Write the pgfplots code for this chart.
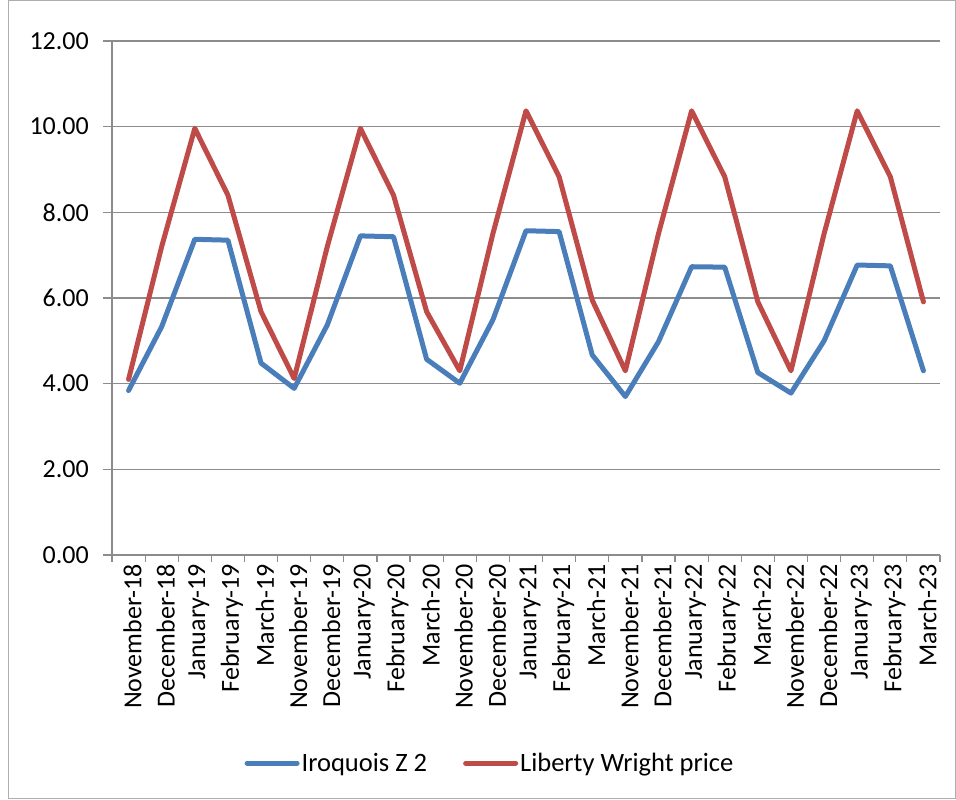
\documentclass[border=0pt]{standalone}
\usepackage{pgfplots}
\pgfplotsset{compat=1.18}
\usepackage{fontspec}
\setmainfont{Carlito}

\definecolor{serblue}{HTML}{4A7EBB}
\definecolor{serred}{HTML}{BE4B48}
\definecolor{gridgray}{HTML}{8C8C8C}

\pgfplotstableread{
x iroq lib
0  3.84 4.10
1  5.33 7.20
2  7.37 9.96
3  7.35 8.40
4  4.48 5.68
5  3.89 4.12
6  5.37 7.20
7  7.45 9.96
8  7.43 8.40
9  4.57 5.68
10 4.01 4.30
11 5.49 7.50
12 7.57 10.37
13 7.55 8.83
14 4.67 5.95
15 3.70 4.30
16 4.98 7.50
17 6.73 10.37
18 6.72 8.83
19 4.26 5.91
20 3.78 4.30
21 5.00 7.50
22 6.77 10.37
23 6.75 8.83
24 4.30 5.91
}\prices

\begin{document}
\begin{tikzpicture}[x=1pt,y=1pt]
\useasboundingbox (0,0) rectangle (956,800);
\draw[gridgray!70, line width=1pt] (8,1) -- (8,799.5) -- (955.5,799.5) -- (955.5,1) -- cycle;
\begin{axis}[
    at={(112pt,245pt)}, anchor=south west,
    scale only axis,
    width=828pt, height=514pt,
    xmin=-0.5, xmax=24.5,
    ymin=0, ymax=12,
    ytick={0,2,...,12},
    axis lines=left,
    axis line style={-, gridgray, line width=1.2pt},
    ymajorgrids,
    grid style={gridgray, line width=1.2pt},
    xtick={0,...,24},
    xticklabels={November-18,December-18,January-19,February-19,March-19,
      November-19,December-19,January-20,February-20,March-20,
      November-20,December-20,January-21,February-21,March-21,
      November-21,December-21,January-22,February-22,March-22,
      November-22,December-22,January-23,February-23,March-23},
    minor xtick={-0.5,0.5,...,24.5},
    tick align=outside,
    major tick length=9pt,
    minor tick length=7pt,
    x tick style={draw=none},
    minor x tick style={draw=gridgray, line width=1.2pt},
    y tick style={gridgray, line width=1.2pt},
    xticklabel style={rotate=90, anchor=east, font=\fontsize{26}{30}\selectfont, inner sep=0pt, yshift=-4pt},
    yticklabel style={font=\fontsize{26}{30}\selectfont, inner sep=0pt, xshift=-14pt},
    xtick pos=bottom, ytick pos=left,
    /pgf/number format/.cd, fixed, fixed zerofill, precision=2, assume math mode=true,
    /pgfplots/.cd,
    legend columns=2,
    legend style={at={(0.4565,-0.405)}, anchor=center, draw=none,
      font=\fontsize{26.5}{30}\selectfont,
      /tikz/every even column/.append style={column sep=34pt}},
    legend image code/.code={\draw[#1, line cap=round] (0pt,0pt) -- (50pt,0pt);},
]
\addplot[serblue, line width=5pt, line join=round, line cap=round] table[x=x, y=iroq] {\prices};
\addlegendentry{Iroquois Z 2}
\addplot[serred, line width=5pt, line join=round, line cap=round] table[x=x, y=lib] {\prices};
\addlegendentry{Liberty Wright price}
\end{axis}
\end{tikzpicture}
\end{document}
